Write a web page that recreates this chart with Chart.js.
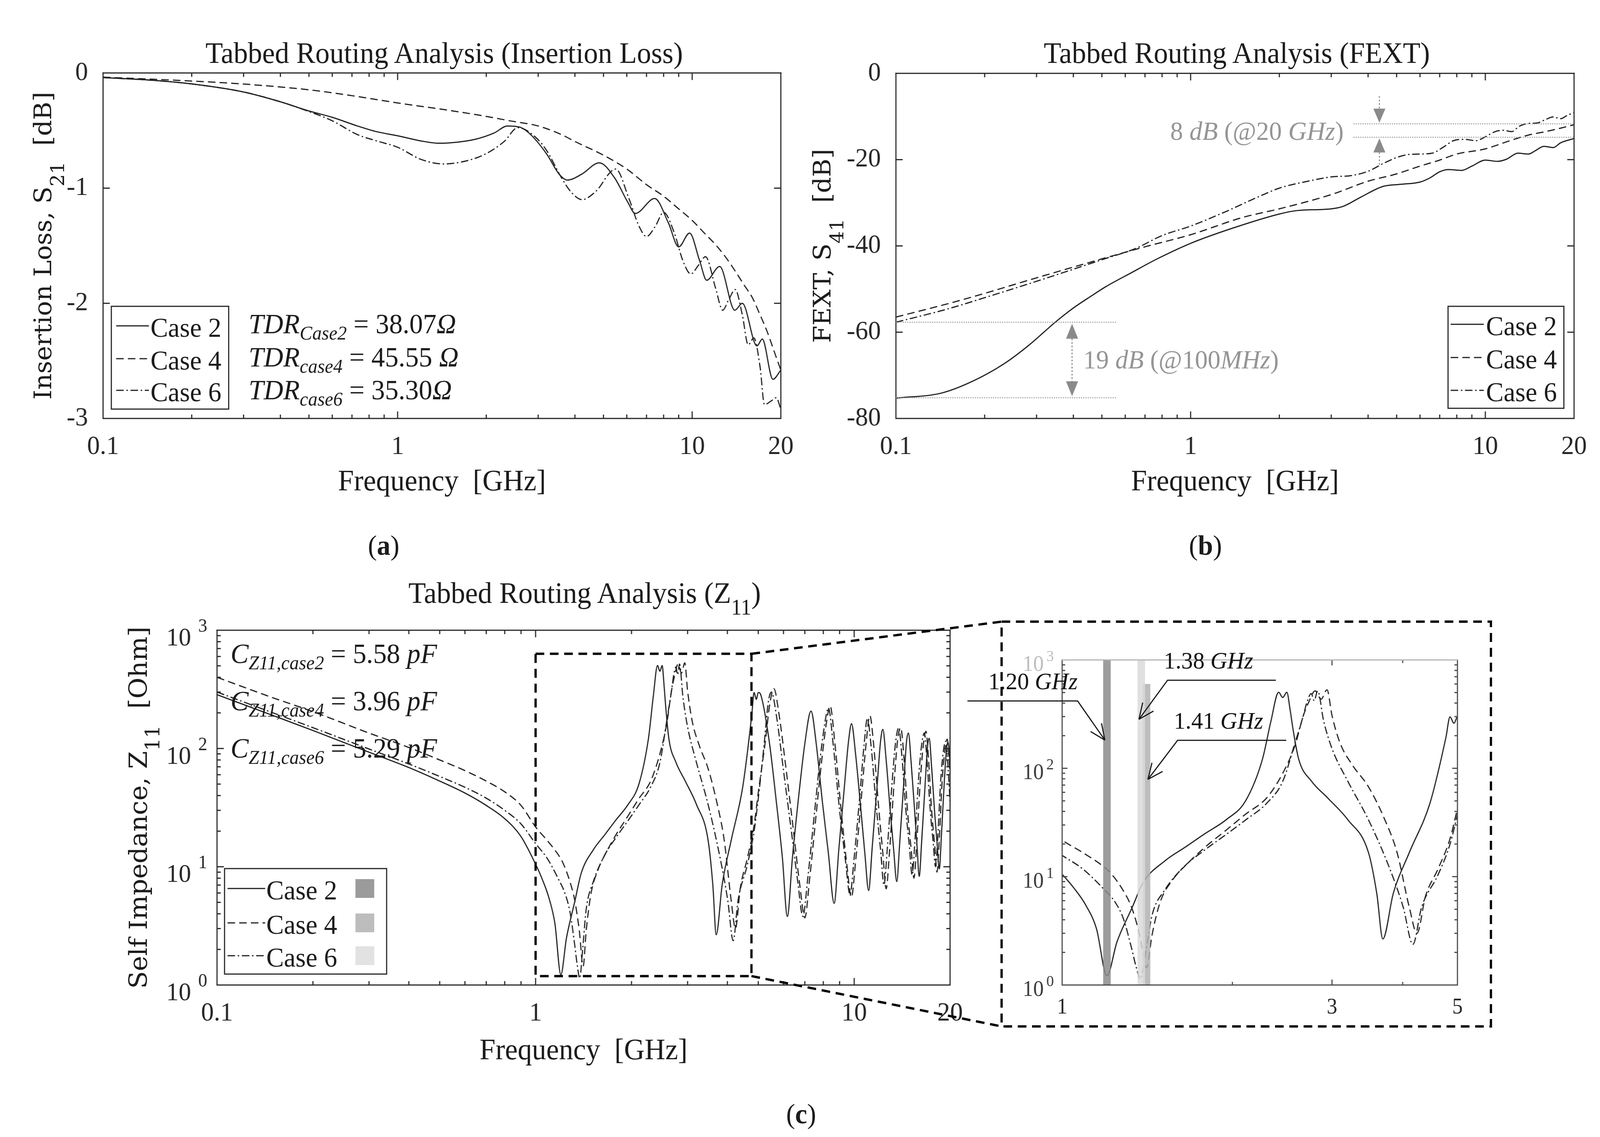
<!DOCTYPE html>
<html>
<head>
<meta charset="utf-8">
<title>Tabbed Routing Analysis</title>
<script src="https://cdn.jsdelivr.net/npm/chart.js@4.4.1/dist/chart.umd.min.js"></script>
<style>
  html, body { margin:0; padding:0; background:#ffffff; overflow:hidden; }
  #page { position:relative; width:4254px; height:2910px; background:#ffffff; overflow:hidden; transform-origin:0 0; }
  #page canvas { position:absolute; }
  #ov { position:absolute; left:0; top:0; }
  #ov text { white-space:pre; }
</style>
</head>
<body>
<div id="page">
  <canvas id="chartIL"></canvas>
  <canvas id="chartFEXT"></canvas>
  <canvas id="chartZ"></canvas>
  <canvas id="chartZoom"></canvas>
  <svg id="ov" xmlns="http://www.w3.org/2000/svg" width="4254" height="2910" viewBox="0 0 4254 2910"></svg>
</div>
<script>
// ================= DATA =================
const seriesNames = ['Case 2', 'Case 4', 'Case 6'];

// (a) Insertion loss S21 [dB] vs frequency [GHz]
const ilFreqCase2 = [0.1,0.15,0.2,0.3,0.4,0.5,0.6,0.73,0.85,1.0,1.2,1.38,1.6,1.84,2.13,2.36,2.6,2.83,3.2,3.54,3.77,4.21,4.84,5.45,6.04,6.41,7.46,8.3,9.0,9.8,10.6,11.2,12.4,13.96,14.8,16.6,17.3,18.8,20];
const ilCase2     = [-0.04,-0.065,-0.095,-0.165,-0.25,-0.33,-0.385,-0.46,-0.51,-0.545,-0.59,-0.61,-0.6,-0.575,-0.52,-0.46,-0.47,-0.535,-0.70,-0.88,-0.93,-0.88,-0.78,-0.91,-1.12,-1.22,-1.09,-1.30,-1.51,-1.39,-1.63,-1.80,-1.68,-2.06,-2.00,-2.37,-2.31,-2.66,-2.58];
const ilFreqCase4 = [0.1,0.2,0.3,0.5,0.7,1,1.5,2,2.4,3,3.6,4,5,6,7,8,9,10,11,12,13,14,15,16,17,18,19,20];
const ilCase4     = [-0.036,-0.07,-0.096,-0.146,-0.197,-0.26,-0.325,-0.377,-0.415,-0.46,-0.535,-0.595,-0.714,-0.834,-0.97,-1.07,-1.18,-1.28,-1.39,-1.49,-1.60,-1.72,-1.84,-1.95,-2.10,-2.25,-2.42,-2.58];
const ilFreqCase6 = [0.1,0.15,0.2,0.3,0.4,0.5,0.6,0.73,0.85,1.0,1.2,1.43,1.7,2.0,2.3,2.56,2.9,3.2,3.6,3.9,4.23,4.7,5.5,6.1,6.6,7.0,7.5,8.0,8.7,9.3,9.9,10.5,11.1,12.0,12.7,13.3,14.0,14.8,15.5,16.2,17.0,17.6,18.5,19.3,20];
const ilCase6     = [-0.04,-0.065,-0.095,-0.165,-0.25,-0.335,-0.415,-0.535,-0.59,-0.645,-0.75,-0.79,-0.765,-0.70,-0.595,-0.475,-0.544,-0.67,-0.91,-1.04,-1.10,-1.03,-0.834,-1.09,-1.33,-1.42,-1.33,-1.21,-1.39,-1.63,-1.745,-1.67,-1.595,-1.865,-2.06,-1.97,-1.88,-2.10,-2.36,-2.30,-2.55,-2.88,-2.85,-2.82,-2.92];

// (b) FEXT S41 [dB] vs frequency [GHz]
const fextFreqCase2 = [0.1,0.143,0.183,0.233,0.284,0.347,0.398,0.458,0.517,0.63,0.77,1.0,1.4,2.0,2.3,3.0,3.3,3.8,4.5,5.2,6.0,6.5,7.0,7.5,8.3,9.0,10.0,11.0,11.8,12.9,14.0,14.8,15.8,17.0,18.0,20];
const fextCase2     = [-75.3,-74.1,-71.3,-67.3,-62.9,-57.7,-54.5,-51.7,-49.4,-46.2,-43.0,-39.4,-35.8,-32.6,-31.8,-31.4,-30.8,-28.6,-26.2,-25.7,-25.2,-24.2,-22.8,-22.3,-22.5,-21.5,-20.1,-20.4,-19.9,-18.5,-18.7,-17.9,-16.9,-17.2,-16.1,-15.1];
const fextFreqCase4 = [0.1,0.15,0.2,0.3,0.5,0.7,1,1.5,2,3,4,5,6,7,8,10,12,14,16,18,20];
const fextCase4     = [-56.5,-53.4,-51.0,-47.4,-43.0,-40.2,-37.4,-33.4,-31.4,-28.1,-25.0,-23.3,-21.5,-20.1,-18.7,-17.5,-15.7,-14.3,-13.5,-12.7,-11.9];
const fextFreqCase6 = [0.1,0.15,0.2,0.3,0.4,0.5,0.65,0.8,1.0,1.3,1.7,2.0,2.5,3.0,3.5,4.0,4.5,5.0,5.5,6.0,6.6,7.2,7.8,8.5,9.3,10,10.8,11.5,12.3,13,14,15,16,17,18,19,20];
const fextCase6     = [-57.7,-54.6,-52.0,-48.2,-45.4,-43.2,-40.6,-37.6,-35.4,-32.2,-28.6,-26.6,-25.0,-24.0,-23.7,-22.7,-20.9,-19.5,-18.8,-18.7,-18.5,-17.1,-15.6,-15.3,-15.6,-14.7,-13.5,-13.2,-13.5,-12.3,-11.6,-11.5,-10.7,-10.1,-10.5,-9.7,-9.1];

// (c) Self impedance Z11 [Ohm] vs frequency [GHz]
const zFreqCase2 = [0.1,0.15,0.2,0.3,0.4,0.5,0.6,0.7,0.8,0.9,1.0,1.05,1.1,1.15,1.2,1.25,1.33,1.39,1.52,1.65,1.79,1.95,2.11,2.26,2.34,2.414,2.455,2.496,2.53,2.56,2.62,2.76,2.95,3.2,3.48,3.6,3.69,3.85,4.11,4.47,4.77,4.85,4.93,5.0,5.1,5.4,5.7,5.95,6.17,6.4,6.7,7.0,7.32,7.6,7.95,8.3,8.65,8.95,9.3,9.6,9.81,10.1,10.5,10.8,11.1,11.4,11.8,12.1,12.3,12.6,13.0,13.3,13.6,13.9,14.3,14.6,14.8,15.1,15.5,15.75,16.0,16.3,16.7,17.0,17.2,17.5,17.9,18.2,18.5,18.8,19.2,19.5,19.7,20];
const zCase2     = [285,190,142,93,69,53,42,33,25.5,18,10.5,7.8,5.5,3.3,1.22,2.5,5.2,8.8,14,18.7,25,33.5,50,121,273,503,450,503,345,229,121,76,53,33.5,16.7,7.0,2.66,7.0,16.7,47.6,192,298,260,298,280,120,35,12,3.8,12,40,110,207,110,35,13,4.9,14,45,115,162,90,30,13,6.3,15,48,115,145,80,28,14,7.5,16,50,115,135,75,28,15,8.3,17,50,105,122,70,28,16,9.6,19,55,100,113,75];
const zFreqCase4 = [0.1,0.15,0.2,0.3,0.4,0.5,0.6,0.7,0.8,0.9,1.0,1.087,1.181,1.22,1.283,1.327,1.371,1.41,1.442,1.49,1.567,1.675,1.789,1.945,2.11,2.30,2.455,2.58,2.67,2.73,2.80,2.87,2.94,3.0,3.10,3.26,3.48,3.72,3.91,4.11,4.24,4.39,4.62,4.85,5.0,5.25,5.45,5.6,5.8,6.1,6.45,6.75,7.0,7.25,7.6,7.95,8.25,8.4,8.7,9.1,9.5,9.8,10.1,10.5,10.9,11.2,11.5,11.9,12.3,12.6,12.9,13.3,13.7,14.0,14.3,14.7,15.1,15.4,15.7,16.1,16.5,16.8,17.1,17.5,17.9,18.2,18.5,18.9,19.3,19.6,20];
const zCase4     = [400,268,205,135,102,80,65,53,43,33,21.7,16.7,12.5,10.7,7.4,5.2,2.9,1.44,2.9,5.8,9.3,13.6,18.7,26.6,37.7,53.4,90,162,307,410,518,434,530,307,171,107,67.5,33.5,16.7,5.2,3.0,6.6,11.8,22.3,42.4,110,250,320,200,70,20,7,3.7,8,28,90,190,230,110,30,10,5.5,11,35,110,190,110,35,13,6.5,13,45,120,150,90,30,14,8,15,50,110,140,85,30,15,9,17,55,100,120,60];
const zFreqCase6 = [0.1,0.15,0.2,0.3,0.4,0.5,0.6,0.7,0.8,0.9,1.0,1.087,1.181,1.241,1.283,1.327,1.35,1.375,1.406,1.442,1.515,1.646,1.789,1.945,2.113,2.30,2.455,2.58,2.67,2.71,2.757,2.79,2.83,2.90,3.0,3.20,3.48,3.78,4.01,4.17,4.32,4.62,4.85,5.0,5.2,5.38,5.5,5.7,6.0,6.35,6.65,6.9,7.15,7.5,7.85,8.15,8.3,8.6,9.0,9.4,9.7,10.0,10.4,10.75,11.0,11.3,11.7,12.1,12.4,12.7,13.1,13.5,13.8,14.1,14.5,14.9,15.2,15.5,15.9,16.3,16.6,16.9,17.3,17.7,18.0,18.3,18.7,19.1,19.4,19.7,20];
const zCase6     = [300,200,150,99,74,58,47,38,30,23,15.7,11.8,7.8,5.8,4.1,2.17,1.5,1.14,2.05,4.4,7.4,12.5,17.7,24.3,33.5,47.6,75.8,171,307,410,489,420,518,273,152,75.8,33.5,12.5,5.2,2.37,5.2,10.4,19.9,37.7,100,250,300,190,65,20,7.5,3.8,8,28,90,185,220,105,30,11,5.8,12,38,110,180,105,35,14,7,14,45,115,150,90,32,15,8.5,16,52,110,135,85,32,16,10,18,55,100,115,70,35];

// Tick labels
const freqTickValues = [0.1, 1, 10, 20];
const freqTickLabels = ['0.1', '1', '10', '20'];
const freqMinorTicks = [0.2,0.3,0.4,0.5,0.6,0.7,0.8,0.9,2,3,4,5,6,7,8,9];
const ilTickValues   = [0, -1, -2, -3];
const ilTickLabels   = ['0', '-1', '-2', '-3'];
const fextTickValues = [0, -20, -40, -60, -80];
const fextTickLabels = ['0', '-20', '-40', '-60', '-80'];
const zTickValues    = [1, 10, 100, 1000];
const zTickExponents = ['0', '1', '2', '3'];
const zMinorTicks    = [2,3,4,5,6,7,8,9,20,30,40,50,60,70,80,90,200,300,400,500,600,700,800,900];
const zoomFreqTickValues = [1, 3, 5];
const zoomFreqTickLabels = ['1', '3', '5'];
const zoomFreqMinorTicks = [2, 4];

// Annotation values
const tdrSubs   = ['Case2', 'case4', 'case6'];
const tdrValues = ['38.07', '45.55 ', '35.30'];
const capSubs   = ['Z11,case2', 'Z11,case4', 'Z11,case6'];
const capValues = ['5.58', '3.96', '5.29'];
const fextLowGapFreqs   = [0.1, 0.56];
const fextLowGapLevels  = [-57.7, -75.2];
const fextLowArrowFreq  = 0.396;
const fextHighGapFreqs  = [3.57, 20];
const fextHighGapLevels = [-11.7, -14.8];
const fextHighArrowFreq = 4.37;
const fextHighArrowEnds = [-5.3, -21.5];
const zoomBoxFreqs = [1, 4.76];
const zoomBoxZ     = [1.19, 632];
const resonanceFreqs  = [1.20, 1.38, 1.41];
const resonanceTops   = [1000, 1000, 600];
const resonanceLabels = ['1.20', '1.38', '1.41'];
const calloutTips   = [[1.19, 182], [1.367, 283], [1.418, 79]];
const calloutElbows = [[1.065, 418], [1.536, 650], [1.60, 181]];
const calloutTails  = [[0.68, 418], [2.387, 650], [2.49, 181]];

// ================= STYLE =================
const SERIF = "'Liberation Serif', 'Times New Roman', serif";
const WIDE  = "'DejaVu Serif', serif";
const INK = '#262626';
const CURVE = '#202020';
const NOTE = '#959595';
const DASH4 = [20, 11];
const DASH6 = [20, 7, 4, 7];
const DASHES = [[], DASH4, DASH6];
const SHADES = ['#9b9b9b', '#bdbdbd', '#e2e2e2'];
const BAR_SHADES = ['rgba(140,140,140,0.85)', 'rgba(218,218,218,0.85)', 'rgba(178,178,178,0.85)'];

// stretch the 4254x2910 figure onto the actual viewport
(function fit() {
  const vw = window.innerWidth || document.documentElement.clientWidth || 4254;
  const vh = window.innerHeight || document.documentElement.clientHeight || 2910;
  const sx = vw / 4254, sy = vh / 2910;
  if (Math.abs(sx - 1) > 0.002 || Math.abs(sy - 1) > 0.002) document.getElementById('page').style.transform = 'scale(' + sx + ',' + sy + ')';
})();

function zip(fs, vs) { const n = Math.min(fs.length, vs.length), out = []; for (let i = 0; i < n; i++) out.push({ x: fs[i], y: vs[i] }); return out; }
function labelOf(values, labels, v) { for (let i = 0; i < values.length; i++) if (Math.abs(values[i] - v) <= 1e-9 * Math.max(1, Math.abs(v))) return labels[i]; return ''; }
function curveSet(name, fs, vs, dash) {
  return { label: name, data: zip(fs, vs), borderColor: CURVE, borderWidth: 3, borderDash: dash,
           pointRadius: 0, pointHoverRadius: 0, fill: false, cubicInterpolationMode: 'monotone', order: 2 };
}
function axis(type, min, max, values, labels, size, pad, show) {
  return { type, min, max,
    afterBuildTicks: s => { s.ticks = values.map(v => ({ value: v })); },
    ticks: { display: show, autoSkip: false, maxRotation: 0, minRotation: 0, padding: pad, color: INK,
             font: { family: SERIF, size: size }, callback: v => labelOf(values, labels, v) },
    grid: { display: false }, border: { display: false } };
}
function framePlugin(cfg) {
  return { id: 'frame', afterDatasetsDraw(chart) {
    const ctx = chart.ctx, a = chart.chartArea, xs = chart.scales.x, ys = chart.scales.y;
    ctx.save(); ctx.setLineDash([]); ctx.lineWidth = cfg.lw; ctx.strokeStyle = cfg.color; ctx.lineCap = 'butt';
    const seg = (x1, y1, x2, y2) => { ctx.beginPath(); ctx.moveTo(x1, y1); ctx.lineTo(x2, y2); ctx.stroke(); };
    const xt = (vals, len) => vals.forEach(v => { const p = xs.getPixelForValue(v); if (p < a.left + 3 || p > a.right - 3) return; seg(p, a.bottom, p, a.bottom - len); seg(p, a.top, p, a.top + len); });
    const yt = (vals, len) => vals.forEach(v => { const p = ys.getPixelForValue(v); if (p < a.top + 3 || p > a.bottom - 3) return; seg(a.left, p, a.left + len, p); seg(a.right, p, a.right - len, p); });
    xt(cfg.xMajor, cfg.major); xt(cfg.xMinor, cfg.minor); yt(cfg.yMajor, cfg.major); yt(cfg.yMinor, cfg.minor);
    ctx.lineCap = 'square';
    ctx.beginPath(); ctx.moveTo(a.left, a.top); ctx.lineTo(a.left, a.bottom); ctx.lineTo(a.right, a.bottom); ctx.lineTo(a.right, a.top); ctx.stroke();
    ctx.strokeStyle = cfg.topColor || cfg.color; seg(a.left, a.top, a.right, a.top);
    ctx.restore();
  }};
}
function powerPlugin(cfg) {
  return { id: 'power', afterDraw(chart) {
    const ctx = chart.ctx, a = chart.chartArea, ys = chart.scales.y;
    ctx.save(); ctx.textBaseline = 'alphabetic';
    zTickValues.forEach((v, i) => {
      const y = ys.getPixelForValue(v);
      ctx.fillStyle = (cfg.colors && cfg.colors[i]) || INK;
      ctx.font = cfg.base + 'px ' + SERIF; ctx.textAlign = 'right'; ctx.fillText('10', a.left - cfg.baseGap, y + cfg.baseDy);
      ctx.font = cfg.exp + 'px ' + SERIF; ctx.textAlign = 'left'; ctx.fillText(zTickExponents[i], a.left - cfg.expGap, y + cfg.expDy);
    });
    ctx.restore();
  }};
}
function build(id, area, m, cfg) {
  const cv = document.getElementById(id);
  const W = area.R - area.L + m.l + m.r, H = area.B - area.T + m.t + m.b;
  cv.width = W; cv.height = H;
  cv.style.left = (area.L - m.l) + 'px'; cv.style.top = (area.T - m.t) + 'px';
  cv.style.width = W + 'px'; cv.style.height = H + 'px';
  const o = cfg.options;
  o.responsive = false; o.maintainAspectRatio = false; o.animation = false; o.devicePixelRatio = 1; o.events = [];
  o.layout = { padding: { left: 0, top: m.t, right: m.r, bottom: 0 } };
  o.plugins = { legend: { display: false }, title: { display: false }, tooltip: { enabled: false } };
  o.scales.x.position = 'bottom'; o.scales.y.position = 'left';
  o.scales.x.afterFit = s => { s.height = m.b; };
  o.scales.y.afterFit = s => { s.width = m.l; };
  const ch = new Chart(cv.getContext('2d'), cfg);
  ch.$ox = area.L - m.l; ch.$oy = area.T - m.t;
  return ch;
}

// ================= CHARTS =================
const AREA_A = { L: 274, T: 174, R: 2076, B: 1071 };
const AREA_B = { L: 2382, T: 175, R: 4185, B: 1071 };
const AREA_C = { L: 577, T: 1613, R: 2526, B: 2521 };
const AREA_D = { L: 2824, T: 1689, R: 3875, B: 2521 };

const chartIL = build('chartIL', AREA_A, { l: 170, t: 60, r: 70, b: 120 }, {
  type: 'line',
  data: { datasets: [curveSet(seriesNames[0], ilFreqCase2, ilCase2, DASHES[0]),
                     curveSet(seriesNames[1], ilFreqCase4, ilCase4, DASHES[1]),
                     curveSet(seriesNames[2], ilFreqCase6, ilCase6, DASHES[2])] },
  options: { scales: { x: axis('logarithmic', 0.1, 20, freqTickValues, freqTickLabels, 68, 24, true),
                       y: axis('linear', -3, 0, ilTickValues, ilTickLabels, 68, 32, true) } },
  plugins: [framePlugin({ lw: 3, color: INK, major: 18, minor: 10, xMajor: [1, 10], xMinor: freqMinorTicks, yMajor: [-1, -2], yMinor: [] })]
});

const chartFEXT = build('chartFEXT', AREA_B, { l: 170, t: 60, r: 60, b: 120 }, {
  type: 'line',
  data: { datasets: [curveSet(seriesNames[0], fextFreqCase2, fextCase2, DASHES[0]),
                     curveSet(seriesNames[1], fextFreqCase4, fextCase4, DASHES[1]),
                     curveSet(seriesNames[2], fextFreqCase6, fextCase6, DASHES[2])] },
  options: { scales: { x: axis('logarithmic', 0.1, 20, freqTickValues, freqTickLabels, 68, 24, true),
                       y: axis('linear', -80, 0, fextTickValues, fextTickLabels, 68, 32, true) } },
  plugins: [framePlugin({ lw: 3, color: INK, major: 18, minor: 10, xMajor: [1, 10], xMinor: freqMinorTicks, yMajor: [-20, -40, -60], yMinor: [] })]
});

const chartZ = build('chartZ', AREA_C, { l: 160, t: 60, r: 70, b: 120 }, {
  type: 'line',
  data: { datasets: [curveSet(seriesNames[0], zFreqCase2, zCase2, DASHES[0]),
                     curveSet(seriesNames[1], zFreqCase4, zCase4, DASHES[1]),
                     curveSet(seriesNames[2], zFreqCase6, zCase6, DASHES[2])] },
  options: { scales: { x: axis('logarithmic', 0.1, 20, freqTickValues, freqTickLabels, 68, 24, true),
                       y: axis('logarithmic', 1, 1000, zTickValues, [], 60, 20, false) } },
  plugins: [framePlugin({ lw: 3, color: INK, major: 18, minor: 10, xMajor: [1, 10], xMinor: freqMinorTicks, yMajor: [10, 100], yMinor: zMinorTicks }),
            powerPlugin({ base: 66, exp: 48, baseGap: 69, baseDy: 39, expGap: 50, expDy: 4 })]
});

const barSets = resonanceFreqs.map((f, i) => ({
  label: 'f' + resonanceLabels[i], data: [{ x: f, y: 1 }, { x: f, y: resonanceTops[i] }],
  borderColor: BAR_SHADES[i], borderWidth: 20, borderCapStyle: 'butt', pointRadius: 0, fill: false, tension: 0, clip: 0, order: 1
}));
const chartZoom = build('chartZoom', AREA_D, { l: 140, t: 60, r: 50, b: 100 }, {
  type: 'line',
  data: { datasets: [curveSet(seriesNames[0], zFreqCase2, zCase2, DASHES[0]),
                     curveSet(seriesNames[1], zFreqCase4, zCase4, DASHES[1]),
                     curveSet(seriesNames[2], zFreqCase6, zCase6, DASHES[2])].concat(barSets) },
  options: { scales: { x: axis('logarithmic', 1, 5, zoomFreqTickValues, zoomFreqTickLabels, 56, 17, true),
                       y: axis('logarithmic', 1, 1000, zTickValues, [], 56, 20, false) } },
  plugins: [framePlugin({ lw: 3, color: '#4a4a4a', topColor: '#b4b4b4', major: 14, minor: 8, xMajor: [3], xMinor: zoomFreqMinorTicks, yMajor: [10, 100], yMinor: zMinorTicks }),
            powerPlugin({ base: 56, exp: 40, baseGap: 49, baseDy: 28, expGap: 42, expDy: 3, colors: ['#3a3a3a', '#3a3a3a', '#3a3a3a', '#bdbdbd'] })]
});

// ================= SVG OVERLAY =================
const NS = 'http://www.w3.org/2000/svg';
const ov = document.getElementById('ov');
function el(tag, attrs, parent) { const e = document.createElementNS(NS, tag); for (const k in attrs) e.setAttribute(k, attrs[k]); (parent || ov).appendChild(e); return e; }
function rich(x, y, parts, attrs, rot) {
  const base = rot ? { transform: 'translate(' + x + ',' + y + ') rotate(' + rot + ')', x: 0, y: 0 } : { x: x, y: y };
  const t = el('text', Object.assign({}, attrs, base));
  let cur = 0;
  parts.forEach(p => {
    const ts = document.createElementNS(NS, 'tspan');
    const target = p.shift || 0;
    if (target !== cur) ts.setAttribute('dy', target - cur);
    cur = target;
    if (p.size) ts.setAttribute('font-size', p.size);
    if (p.italic) ts.setAttribute('font-style', 'italic');
    if (p.bold) ts.setAttribute('font-weight', 'bold');
    ts.textContent = p.t; t.appendChild(ts);
  });
  return t;
}
const X = (ch, v) => ch.$ox + ch.scales.x.getPixelForValue(v);
const Y = (ch, v) => ch.$oy + ch.scales.y.getPixelForValue(v);
function areaOf(ch) { const a = ch.chartArea; return { L: ch.$ox + a.left, R: ch.$ox + a.right, T: ch.$oy + a.top, B: ch.$oy + a.bottom }; }
const A = areaOf(chartIL), B = areaOf(chartFEXT), C = areaOf(chartZ), D = areaOf(chartZoom);
const txt = { fill: '#1c1c1c', 'font-family': SERIF };

rich((A.L + A.R) / 2 + 6, A.T - 26, [{ t: 'Tabbed Routing Analysis (Insertion Loss)' }], Object.assign({ 'font-size': 76, 'text-anchor': 'middle' }, txt));
rich((B.L + B.R) / 2 + 5, B.T - 27, [{ t: 'Tabbed Routing Analysis (FEXT)' }], Object.assign({ 'font-size': 76, 'text-anchor': 'middle' }, txt));
rich((C.L + C.R) / 2 + 3, C.T - 70, [{ t: 'Tabbed Routing Analysis (Z' }, { t: '11', size: 56, shift: 30 }, { t: ')' }], Object.assign({ 'font-size': 76, 'text-anchor': 'middle' }, txt));

[A, B].forEach(P => rich((P.L + P.R) / 2, P.B + 184, [{ t: 'Frequency  [GHz]' }], Object.assign({ 'font-size': 76, 'text-anchor': 'middle' }, txt)));
rich((C.L + C.R) / 2, C.B + 190, [{ t: 'Frequency  [GHz]' }], Object.assign({ 'font-size': 76, 'text-anchor': 'middle' }, txt));

const ytxt = { fill: '#1c1c1c', 'font-family': WIDE, 'text-anchor': 'middle' };
rich(A.L - 138, (A.T + A.B) / 2, [{ t: 'Insertion Loss, S' }, { t: '21', size: 50, shift: 34 }, { t: '  [dB]' }], Object.assign({ 'font-size': 64 }, ytxt), -90);
rich(B.L - 174, (B.T + B.B) / 2, [{ t: 'FEXT, S' }, { t: '41', size: 50, shift: 34 }, { t: '  [dB]' }], Object.assign({ 'font-size': 64 }, ytxt), -90);
rich(C.L - 187, (C.T + C.B) / 2, [{ t: 'Self Impedance, Z' }, { t: '11', size: 52, shift: 34 }, { t: '  [Ohm]' }], Object.assign({ 'font-size': 66 }, ytxt), -90);

function legend(box, sample, textX, baselines, squares) {
  el('rect', { x: box[0], y: box[1], width: box[2] - box[0], height: box[3] - box[1], fill: '#ffffff', stroke: INK, 'stroke-width': 3 });
  seriesNames.forEach((name, i) => {
    const ly = baselines[i] - 28;
    const ln = { x1: sample[0], y1: ly, x2: sample[1], y2: ly, stroke: CURVE, 'stroke-width': 3 };
    if (DASHES[i].length) ln['stroke-dasharray'] = DASHES[i].join(' ');
    el('line', ln);
    rich(textX, baselines[i], [{ t: name }], Object.assign({ 'font-size': 70 }, txt));
    if (squares) el('rect', { x: squares[0], y: ly - 24, width: squares[1] - squares[0], height: 48, fill: SHADES[i] });
  });
}
legend([296, 784, 608, 1047], [309, 396], 400, [862, 946, 1027]);
legend([3850, 784, 4158, 1045], [3857, 3945], 3951, [858, 943, 1027]);
legend([597, 2223, 1028, 2493], [605, 705], 708, [2302, 2390, 2474], [945, 995]);

const tdrBase = [853, 938, 1022];
tdrSubs.forEach((s, i) => rich(661, tdrBase[i], [{ t: 'TDR', italic: true }, { t: s, italic: true, size: 50, shift: 16 }, { t: ' = ' + tdrValues[i] }, { t: 'Ω', italic: true }],
  Object.assign({ 'font-size': 72 }, txt)));

const capBase = [1697, 1818, 1939];
capSubs.forEach((s, i) => rich(613, capBase[i], [{ t: 'C', italic: true }, { t: s, italic: true, size: 50, shift: 16 }, { t: ' = ' + capValues[i] + ' ' }, { t: 'pF', italic: true }],
  Object.assign({ 'font-size': 72 }, txt)));

function dotted(x1, y1, x2, y2, w) { el('line', { x1: x1, y1: y1, x2: x2, y2: y2, stroke: '#9a9a9a', 'stroke-width': w || 2.5, 'stroke-dasharray': '3 3' }); }
function tri(x, tipY, dir, w, h) { const by = tipY - dir * h; el('polygon', { points: x + ',' + tipY + ' ' + (x - w / 2) + ',' + by + ' ' + (x + w / 2) + ',' + by, fill: '#8a8a8a' }); }
fextLowGapLevels.forEach(v => dotted(X(chartFEXT, fextLowGapFreqs[0]), Y(chartFEXT, v), X(chartFEXT, fextLowGapFreqs[1]), Y(chartFEXT, v)));
fextHighGapLevels.forEach(v => dotted(X(chartFEXT, fextHighGapFreqs[0]), Y(chartFEXT, v), X(chartFEXT, fextHighGapFreqs[1]), Y(chartFEXT, v)));
{
  const ax = X(chartFEXT, fextLowArrowFreq), yTop = Y(chartFEXT, fextLowGapLevels[0]), yBot = Y(chartFEXT, fextLowGapLevels[1]);
  tri(ax, yTop + 4, -1, 32, 38); tri(ax, yBot - 4, 1, 32, 38);
  el('line', { x1: ax, y1: yTop + 42, x2: ax, y2: yBot - 42, stroke: '#8a8a8a', 'stroke-width': 3, 'stroke-dasharray': '4 5' });
  rich(ax + 30, (yTop + yBot) / 2 + 22, [{ t: '19 ' }, { t: 'dB', italic: true }, { t: ' (@100' }, { t: 'MHz', italic: true }, { t: ')' }],
    { 'font-size': 68, 'font-family': SERIF, fill: NOTE });
  const hx = X(chartFEXT, fextHighArrowFreq), y1 = Y(chartFEXT, fextHighGapLevels[0]), y2 = Y(chartFEXT, fextHighGapLevels[1]);
  tri(hx, y1 - 3, 1, 32, 36); tri(hx, y2 + 3, -1, 32, 36);
  el('line', { x1: hx, y1: Y(chartFEXT, fextHighArrowEnds[0]), x2: hx, y2: y1 - 39, stroke: '#8a8a8a', 'stroke-width': 3, 'stroke-dasharray': '4 5' });
  el('line', { x1: hx, y1: y2 + 39, x2: hx, y2: Y(chartFEXT, fextHighArrowEnds[1]), stroke: '#8a8a8a', 'stroke-width': 3, 'stroke-dasharray': '4 5' });
  rich(hx - 95, (y1 + y2) / 2 + 24, [{ t: '8 ' }, { t: 'dB', italic: true }, { t: ' (@20 ' }, { t: 'GHz', italic: true }, { t: ')' }],
    { 'font-size': 68, 'font-family': SERIF, fill: NOTE, 'text-anchor': 'end' });
}

{
  const zx1 = X(chartZ, zoomBoxFreqs[0]), zx2 = X(chartZ, zoomBoxFreqs[1]);
  const zy1 = Y(chartZ, zoomBoxZ[1]), zy2 = Y(chartZ, zoomBoxZ[0]);
  const dash = { fill: 'none', stroke: '#000000', 'stroke-width': 6, 'stroke-dasharray': '23 15' };
  el('rect', Object.assign({ x: zx1, y: zy1, width: zx2 - zx1, height: zy2 - zy1 }, dash));
  const OUT = { L: 2663, T: 1591, R: 3964, B: 2627 };
  el('rect', Object.assign({ x: OUT.L, y: OUT.T, width: OUT.R - OUT.L, height: OUT.B - OUT.T }, dash));
  el('line', Object.assign({ x1: zx2, y1: zy1, x2: OUT.L, y2: OUT.T }, dash));
  el('line', Object.assign({ x1: zx2, y1: zy2, x2: OUT.L, y2: OUT.B }, dash));
}

calloutTips.forEach((tipV, i) => {
  const tip = [X(chartZoom, tipV[0]), Y(chartZoom, tipV[1])];
  const elb = [X(chartZoom, calloutElbows[i][0]), Y(chartZoom, calloutElbows[i][1])];
  const tail = [X(chartZoom, calloutTails[i][0]), Y(chartZoom, calloutTails[i][1])];
  el('polyline', { points: tail.join(',') + ' ' + elb.join(',') + ' ' + tip.join(','), fill: 'none', stroke: '#1a1a1a', 'stroke-width': 3 });
  const ang = Math.atan2(tip[1] - elb[1], tip[0] - elb[0]), L = 44, sp = 0.42;
  [ang + Math.PI - sp, ang + Math.PI + sp].forEach(a2 => el('line', { x1: tip[0], y1: tip[1], x2: tip[0] + L * Math.cos(a2), y2: tip[1] + L * Math.sin(a2), stroke: '#1a1a1a', 'stroke-width': 3 }));
  const leftSide = tail[0] < elb[0];
  rich(leftSide ? elb[0] : elb[0] - 10, elb[1] - 30, [{ t: resonanceLabels[i] + ' ' }, { t: 'GHz', italic: true }],
    { 'font-size': 62, 'font-family': SERIF, fill: '#111111', 'text-anchor': leftSide ? 'end' : 'start' });
});

[['a', 1020, 1420], ['b', 3205, 1420], ['c', 2130, 2875]].forEach(p =>
  rich(p[1], p[2], [{ t: '(' }, { t: p[0], bold: true }, { t: ')' }], Object.assign({ 'font-size': 72, 'text-anchor': 'middle' }, txt)));
</script>
</body>
</html>
